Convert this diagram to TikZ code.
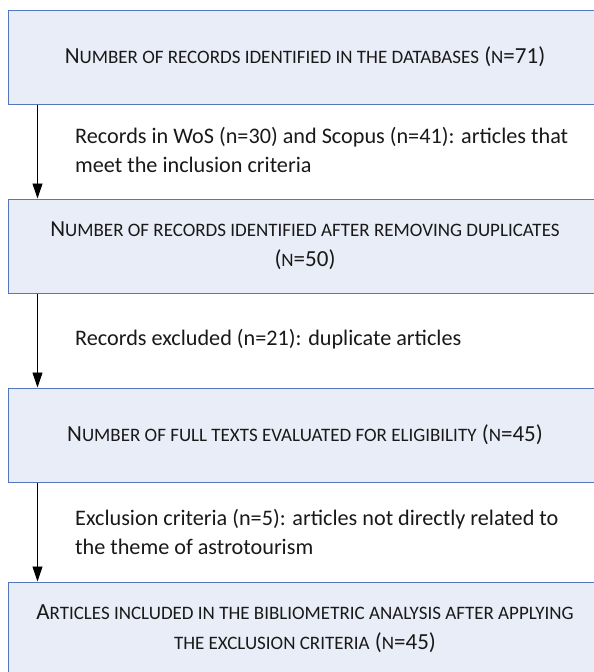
\documentclass[tikz,border=0pt]{standalone}
\usepackage{fontspec}
\setmainfont{Carlito}
\usepackage{xcolor}
\usetikzlibrary{arrows.meta, positioning}

\definecolor{boxfill}{RGB}{233,237,247}
\definecolor{boxline}{RGB}{84,118,190}
\definecolor{ink}{RGB}{25,25,25}
% word-style small caps
\newcommand{\lsc}[1]{{\fontsize{19}{30}\selectfont\MakeUppercase{#1}}}

\begin{document}
\begin{tikzpicture}[x=1pt, y=-1pt,
  every node/.style={text=ink},
  box/.style={rectangle, draw=boxline, fill=boxfill, line width=1pt,
              minimum width=594pt, minimum height=94pt, inner sep=0pt,
              align=center, font=\fontsize{23}{30}\selectfont},
  note/.style={anchor=west, align=left, inner sep=0pt,
               font=\fontsize{22.2}{29}\selectfont},
  flow/.style={-{Triangle[length=15pt,width=10pt]}, line width=0.9pt},
]
  \clip (0,0) rectangle (594,672);
  \useasboundingbox (0,0) rectangle (594,672);
  \coordinate (lane) at (37.5,0);

  \node[box] (ident) at (305,57) {N\lsc{umber of records identified in the databases} (\lsc{n}=71)};
  \node[box] (dedup) at (305,246) {N\lsc{umber of records identified after removing duplicates}\\(\lsc{n}=50)};
  \node[box] (full) at (305,435) {N\lsc{umber of full texts evaluated for eligibility} (\lsc{n}=45)};
  \node[box] (incl) at (305,629) {A\lsc{rticles included in the bibliometric analysis after applying}\\\lsc{the exclusion criteria} (\lsc{n}=45)};

  \node[note] (incnote) at (75,150) {Records in WoS (n=30) and Scopus (n=41): articles that\\meet the inclusion criteria};
  \node[note] (dupnote) at (75,339) {Records excluded (n=21): duplicate articles};
  \node[note] (excnote) at (75,532) {Exclusion criteria (n=5): articles not directly related to\\the theme of astrotourism};

  \draw[flow] (ident.south -| lane) -- (dedup.north -| lane);
  \draw[flow] (dedup.south -| lane) -- (full.north -| lane);
  \draw[flow] (full.south -| lane) -- (incl.north -| lane);
\end{tikzpicture}
\end{document}
